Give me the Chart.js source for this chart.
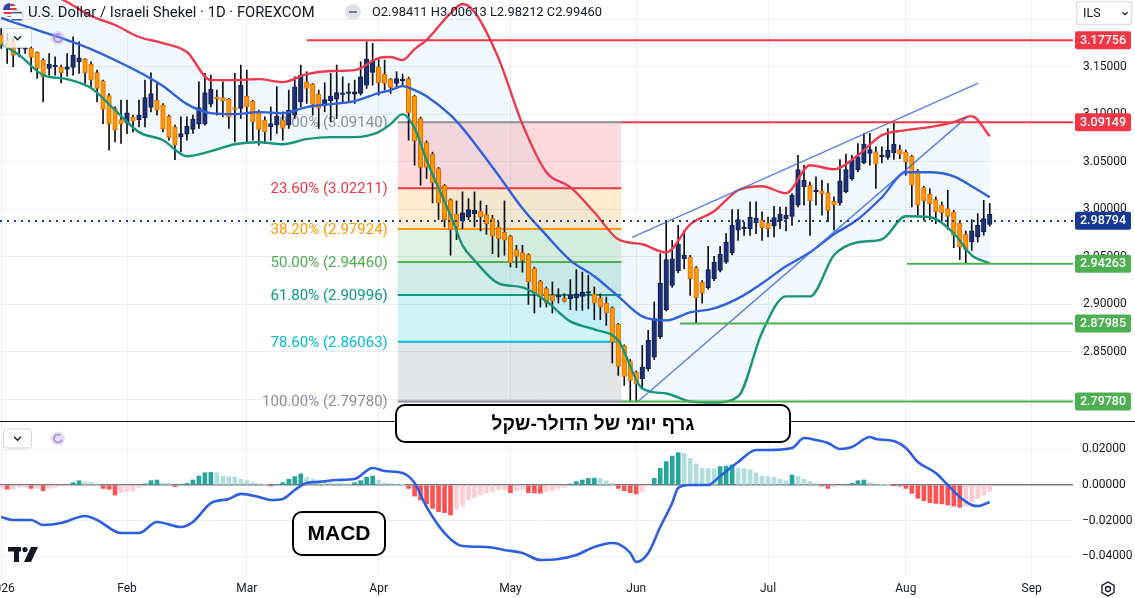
<!DOCTYPE html>
<html>
<head>
<meta charset="utf-8">
<title>USD/ILS 1D</title>
<script src="https://cdn.jsdelivr.net/npm/chart.js@4.4.1/dist/chart.umd.min.js"></script>
<style>
  html, body { margin: 0; padding: 0; background: #fff; }
  #wrap { position: relative; width: 1135px; height: 598px; }
</style>
</head>
<body>
<div id="wrap"><canvas id="chart"></canvas></div>
<script>
// time axis: bar index 0 = 2 Jan 2026 (weekdays only)
var monthLabels = ["2026", "Feb", "Mar", "Apr", "May", "Jun", "Jul", "Aug", "Sep"];
var monthStarts = [0, 21, 41, 63, 85, 106, 128, 151, 172];
var priceTicks = [2.80, 2.85, 2.90, 2.95, 3.00, 3.05, 3.10, 3.15, 3.20];
var macdTicks = [-0.04, -0.02, 0, 0.02];

var opens = [3.1831,3.1778,3.1761,3.1690,3.1684,3.1691,3.1649,3.1568,3.1480,3.1498,
  3.1498,3.1470,3.1491,3.1550,3.1575,3.1526,3.1438,3.1350,3.1196,3.1059,
  3.0943,3.0908,3.0971,3.0943,3.0964,3.1070,3.1147,3.1094,3.0978,3.0866,
  3.0761,3.0789,3.0839,3.0895,3.0895,3.1105,3.1182,3.1175,3.1158,3.1070,
  3.1060,3.1189,3.1137,3.1025,3.0937,3.0867,3.0884,3.0937,3.0884,3.0989,
  3.1130,3.1340,3.1316,3.1211,3.1105,3.1140,3.1158,3.1207,3.1218,3.1211,
  3.1218,3.1305,3.1439,3.1498,3.1421,3.1365,3.1323,3.1352,3.1375,3.1190,
  3.0954,3.0702,3.0579,3.0428,3.0249,3.0102,2.9947,2.9877,2.9919,2.9954,
  2.9979,2.9944,2.9902,2.9814,2.9758,2.9719,2.9576,2.9544,2.9523,2.9376,
  2.9242,2.9165,2.9095,2.9077,2.9067,2.9060,2.9067,2.9084,2.9119,2.9112,
  2.9070,2.9014,2.8965,2.8790,2.8565,2.8404,2.8288,2.8218,2.8323,2.8446,
  2.8657,2.8944,2.9200,2.9351,2.9480,2.9498,2.9386,2.9235,2.9175,2.9270,
  2.9358,2.9445,2.9540,2.9779,2.9796,2.9796,2.9856,2.9884,2.9856,2.9821,
  2.9877,2.9901,2.9926,3.0042,3.0235,3.0252,3.0184,3.0193,3.0172,3.0084,
  3.0066,3.0182,3.0322,3.0417,3.0487,3.0586,3.0603,3.0552,3.0544,3.0593,
  3.0628,3.0603,3.0558,3.0403,3.0228,3.0158,3.0101,3.0042,3.0007,2.9972,
  2.9856,2.9737,2.9656,2.9708,2.9761,2.98411];
var highs = [3.1901,3.1849,3.1796,3.1708,3.1708,3.1708,3.1656,3.1585,3.1638,3.1603,
  3.1515,3.1638,3.1814,3.1761,3.1585,3.1550,3.1463,3.1357,3.1217,3.1077,
  3.1147,3.1147,3.0989,3.1147,3.1357,3.1435,3.1322,3.1112,3.0989,3.0884,
  3.0971,3.0971,3.0989,3.1340,3.1428,3.1411,3.1253,3.1340,3.1165,3.1428,
  3.1516,3.1463,3.1147,3.1042,3.0972,3.1077,3.1288,3.1025,3.1253,3.1393,
  3.1516,3.1446,3.1323,3.1253,3.1330,3.1428,3.1516,3.1393,3.1323,3.1358,
  3.1551,3.1761,3.1744,3.1586,3.1568,3.1375,3.1446,3.1420,3.1390,3.1200,
  3.0970,3.0720,3.0600,3.0440,3.0260,3.0110,3.0088,3.0183,3.0112,3.0183,
  3.0088,3.0042,2.9937,2.9867,3.0088,2.9726,2.9621,2.9621,2.9533,2.9393,
  2.9253,2.9183,2.9235,2.9165,2.9112,2.9260,2.9365,2.9340,2.9305,2.9183,
  2.9112,2.9077,2.8975,2.8800,2.8575,2.8420,2.8300,2.8569,2.8727,2.9025,
  2.9534,2.9867,2.9673,2.9831,2.9779,2.9515,2.9400,2.9250,2.9610,2.9505,
  2.9610,2.9744,2.9996,2.9996,2.9866,3.0077,3.0077,2.9972,2.9919,3.0031,
  3.0024,3.0024,3.0165,3.0568,3.0463,3.0287,3.0340,3.0305,3.0270,3.0130,
  3.0523,3.0579,3.0568,3.0691,3.0796,3.0796,3.0656,3.0656,3.0849,3.0915,
  3.0674,3.0621,3.0568,3.0417,3.0242,3.0217,3.0130,3.0077,3.0200,2.9989,
  2.9884,2.9772,2.9891,2.9954,3.0094,3.00613];
var lows = [3.1691,3.1533,3.1498,3.1603,3.1638,3.1445,3.1375,3.1129,3.1410,3.1410,
  3.1329,3.1400,3.1410,3.1428,3.1322,3.1270,3.1129,3.0901,3.0621,3.0708,
  3.0691,3.0796,3.0814,3.0866,3.0866,3.1024,3.0989,3.0814,3.0726,3.0522,
  3.0603,3.0726,3.0797,3.0849,3.0884,3.1077,3.0989,3.0972,3.0849,3.0709,
  3.0954,3.0709,3.0726,3.0674,3.0691,3.0726,3.0797,3.0726,3.0849,3.0954,
  3.1077,3.1112,3.0989,3.0849,3.1025,3.0919,3.0954,3.1112,3.1130,3.1112,
  3.1200,3.1270,3.1305,3.1200,3.1253,3.1218,3.1270,3.1300,3.0726,3.0463,
  3.0253,3.0323,3.0067,2.9891,2.9814,2.9516,2.9681,2.9797,2.9891,2.9814,
  2.9772,2.9737,2.9533,2.9498,2.9516,2.9393,2.9386,2.9340,2.9000,2.8909,
  2.8972,2.8972,2.8909,2.9014,2.9025,2.8944,2.8937,2.8937,2.8954,2.8839,
  2.8839,2.8779,2.8383,2.8253,2.8148,2.7985,2.7978,2.8113,2.8300,2.8420,
  2.8640,2.8930,2.9180,2.9330,2.9375,2.9094,2.8800,2.9014,2.9160,2.9250,
  2.9340,2.9430,2.9520,2.9673,2.9726,2.9726,2.9744,2.9673,2.9708,2.9708,
  2.9796,2.9772,2.9831,3.0024,3.0042,2.9726,3.0042,2.9937,2.9866,2.9779,
  3.0042,3.0172,3.0305,3.0393,3.0480,3.0463,3.0218,3.0487,3.0523,3.0523,
  3.0533,3.0358,3.0024,2.9937,2.9884,2.9891,2.9849,2.9877,2.9786,2.9596,
  2.9470,2.9426,2.9568,2.9656,2.9726,2.98212];
var closes = [3.1726,3.1708,3.1621,3.1692,3.1686,3.1596,3.1480,3.1393,3.1526,3.1500,
  3.1435,3.1498,3.1621,3.1593,3.1435,3.1357,3.1270,3.1049,3.0901,3.0831,
  3.0894,3.1014,3.0926,3.0989,3.1175,3.1217,3.1042,3.0845,3.0754,3.0673,
  3.0796,3.0873,3.0947,3.1070,3.1228,3.1260,3.1158,3.1140,3.0972,3.1049,
  3.1305,3.1077,3.0919,3.0839,3.0814,3.0902,3.0979,3.0849,3.1042,3.1288,
  3.1411,3.1270,3.1102,3.1060,3.1154,3.1189,3.1228,3.1210,3.1220,3.1235,
  3.1393,3.1575,3.1561,3.1330,3.1323,3.1281,3.1375,3.1362,3.1014,3.0719,
  3.0439,3.0439,3.0277,3.0067,2.9891,2.9786,2.9814,2.9962,2.9997,2.9990,
  2.9919,2.9849,2.9716,2.9691,2.9674,2.9435,2.9505,2.9463,2.9235,2.9119,
  2.9084,2.9014,2.9035,2.9079,2.9035,2.9095,2.9112,2.9126,2.9130,2.9014,
  2.8972,2.8909,2.8604,2.8347,2.8242,2.8200,2.8165,2.8341,2.8621,2.8850,
  2.9225,2.9471,2.9480,2.9631,2.9515,2.9270,2.9070,2.9119,2.9365,2.9445,
  2.9526,2.9656,2.9831,2.9891,2.9800,2.9919,2.9908,2.9807,2.9796,2.9912,
  2.9947,2.9937,3.0147,3.0417,3.0305,3.0087,3.0186,3.0165,2.9989,3.0042,
  3.0298,3.0417,3.0515,3.0550,3.0684,3.0628,3.0473,3.0554,3.0621,3.0684,
  3.0579,3.0498,3.0253,3.0042,3.0087,3.0059,2.9972,2.9961,2.9926,2.9726,
  2.9603,2.9575,2.9772,2.9831,2.9901,2.99460];

// Bollinger bands read at sample bars
var bandIdx = [0,3,7,11,15,19,23,27,31,35,39,43,47,51,55,59,63,65,67,69,71,75,77,79,83,87,91,95,99,103,107,111,115,119,123,127,131,135,139,143,147,151,155,159,162,165];
var bandUpper = [3.2516,3.2411,3.2305,3.2179,3.2032,3.1937,3.1811,3.1747,3.1653,3.1358,3.1358,3.1368,3.1337,3.1421,3.1453,3.1463,3.1589,3.1600,3.1568,3.1684,3.1779,3.2063,3.2158,3.2074,3.1589,3.0895,3.0389,3.0232,2.9968,2.9684,2.9632,2.9547,2.9842,2.9979,3.0200,3.0242,3.0168,3.0463,3.0421,3.0568,3.0779,3.0832,3.0863,3.0916,3.0979,3.0768];
var bandMiddle = [3.2011,3.1947,3.1863,3.1779,3.1684,3.1568,3.1442,3.1295,3.1105,3.1011,3.1000,3.1021,3.1011,3.1074,3.1105,3.1137,3.1221,3.1253,3.1295,3.1253,3.1189,3.0989,3.0853,3.0695,3.0358,3.0011,2.9726,2.9463,2.9295,2.9084,2.8874,2.8832,2.8916,2.8958,2.9063,2.9221,2.9400,2.9547,2.9737,2.9895,3.0126,3.0389,3.0389,3.0347,3.0242,3.0126];
var bandLower = [3.1737,3.1621,3.1411,3.1368,3.1274,3.1042,3.0811,3.0726,3.0558,3.0611,3.0684,3.0705,3.0684,3.0737,3.0758,3.0758,3.0811,3.0895,3.1000,3.0853,3.0516,2.9937,2.9621,2.9463,2.9221,2.9179,2.9032,2.8821,2.8737,2.8621,2.8116,2.8063,2.7979,2.7968,2.8032,2.8705,2.9084,2.9084,2.9516,2.9653,2.9684,2.9926,2.9916,2.9747,2.9516,2.9432];

// MACD
var macdIdx = [0,2,5,7,10,14,16,20,23,26,30,32,35,38,40,43,45,47,49,51,53,56,59,62,64,67,69,71,74,77,81,84,87,90,93,96,99,102,103,105,106,108,110,112,113,115,118,120,123,126,128,132,134,136,138,140,142,145,146,149,151,153,156,158,160,162,163,165];
var macdLine = [-0.0179,-0.0196,-0.0196,-0.0224,-0.0213,-0.0174,-0.0196,-0.0269,-0.0269,-0.0207,-0.0235,-0.0207,-0.0101,-0.0078,-0.0050,-0.0067,-0.0084,-0.0078,-0.0028,0.0011,0.0017,0.0028,0.0034,0.0095,0.0078,0.0067,0.0011,-0.0123,-0.0269,-0.0342,-0.0347,-0.0364,-0.0381,-0.0420,-0.0415,-0.0392,-0.0347,-0.0325,-0.0330,-0.0381,-0.0431,-0.0381,-0.0235,-0.0101,-0.0017,0.0000,0.0000,0.0050,0.0129,0.0196,0.0196,0.0207,0.0263,0.0252,0.0235,0.0202,0.0213,0.0269,0.0258,0.0246,0.0207,0.0129,0.0067,0.0000,-0.0067,-0.0112,-0.0118,-0.0095];
var macdHist = [-0.0018,-0.0024,-0.0024,-0.0013,-0.0013,-0.0019,-0.0019,-0.0032,-0.0019,-0.0013,
  -0.0006,-0.0002,0.0013,0.0024,0.0017,0.0013,0.0006,-0.0019,-0.0024,-0.0056,
  -0.0043,-0.0037,-0.0032,-0.0013,0.0006,0.0024,0.0028,0.0013,0.0009,-0.0009,
  0.0002,0.0009,0.0028,0.0050,0.0069,0.0070,0.0068,0.0050,0.0047,0.0045,
  0.0032,0.0024,0.0013,0.0006,0.0002,-0.0006,0.0004,0.0013,0.0032,0.0047,
  0.0062,0.0043,0.0032,0.0028,0.0024,0.0013,0.0009,0.0006,0.0004,0.0013,
  0.0024,0.0043,0.0050,0.0028,0.0013,0.0009,0.0006,0.0002,-0.0019,-0.0062,
  -0.0084,-0.0106,-0.0131,-0.0149,-0.0155,-0.0168,-0.0136,-0.0118,-0.0084,-0.0069,
  -0.0056,-0.0047,-0.0037,-0.0028,-0.0026,-0.0043,-0.0032,-0.0024,-0.0043,-0.0045,
  -0.0046,-0.0037,-0.0032,-0.0020,-0.0013,0.0006,0.0019,0.0028,0.0037,0.0038,
  0.0036,0.0024,0.0009,-0.0019,-0.0032,-0.0043,-0.0050,-0.0037,-0.0002,0.0037,
  0.0093,0.0131,0.0162,0.0181,0.0177,0.0149,0.0118,0.0093,0.0092,0.0091,
  0.0103,0.0106,0.0112,0.0093,0.0092,0.0084,0.0069,0.0050,0.0047,0.0043,
  0.0032,0.0024,0.0056,0.0047,0.0032,0.0019,0.0009,-0.0006,-0.0019,-0.0010,
  -0.0004,0.0003,0.0009,0.0024,0.0028,0.0013,0.0006,0.0002,0.0001,-0.0001,
  -0.0006,-0.0019,-0.0047,-0.0075,-0.0088,-0.0099,-0.0103,-0.0106,-0.0112,-0.0118,
  -0.0125,-0.0118,-0.0093,-0.0075,-0.0056,-0.0037];

// drawings
var fibLevels = [0, 0.236, 0.382, 0.5, 0.618, 0.786, 1];
var fibPrices = [3.09140, 3.02211, 2.97924, 2.94460, 2.90996, 2.86063, 2.79780];
var fibSpan = [66.2, 103.5];
var levelPrices = [3.17756, 3.09149, 2.94263, 2.87985, 2.79780];
var levelStarts = [51, 103.5, 151.2, 113.3, 103.5];
var lastPrice = 2.98794;
var trendUpperX = [105.3, 163.1], trendUpperY = [2.9705, 3.1326];
var trendLowerX = [106.1, 161.2], trendLowerY = [2.7968, 3.0968];

var RED = "#f23645", GREEN = "#4caf50", NAVY = "#143a96";
var fibColors = ["#8c8f99", "#f23645", "#ff9800", "#4caf50", "#089981", "#00bcd4", "#8c8f99"];
var fibFills = ["rgba(242,54,69,0.18)", "rgba(255,152,0,0.18)", "rgba(76,175,80,0.18)",
  "rgba(8,153,129,0.18)", "rgba(0,188,212,0.18)", "rgba(120,123,134,0.2)"];
var levelColors = [RED, RED, GREEN, GREEN, GREEN];
var GRID = "#eceef3";
var FONT = "Roboto, 'Noto Sans', sans-serif";

Chart.defaults.font.family = FONT;
Chart.defaults.color = "#131722";

var bars = opens.map(function (o, k) { return k; });
var up = bars.map(function (k) { return closes[k] >= opens[k]; });
function pts(xs, ys) { return xs.map(function (x, k) { return { x: x, y: ys[k] }; }); }

var histColors = macdHist.map(function (v, k) {
  var prev = k > 0 ? macdHist[k - 1] : v;
  if (v >= 0) return v >= prev ? "#26a69a" : "#b2dfdb";
  return v < prev ? "#ff5252" : "#ffcdd2";
});

function chevron(ctx, cx, cy, s) {
  ctx.beginPath();
  ctx.moveTo(cx - s, cy - s / 2);
  ctx.lineTo(cx, cy + s / 2);
  ctx.lineTo(cx + s, cy - s / 2);
  ctx.stroke();
}
function fitSize(ctx, text, width, weight, family) {
  ctx.font = weight + " 20px " + family;
  return 20 * width / ctx.measureText(text).width;
}
function textBox(ctx, x, y, w, h, text, textW, rtl) {
  ctx.beginPath();
  ctx.roundRect(x, y, w, h, 9);
  ctx.fillStyle = "#fff";
  ctx.fill();
  ctx.lineWidth = 2;
  ctx.strokeStyle = "#000";
  ctx.stroke();
  var fam = rtl ? "'Liberation Sans', 'DejaVu Sans', sans-serif" : "'Liberation Sans', Roboto, sans-serif";
  var size = fitSize(ctx, text, textW, "bold", fam);
  ctx.font = "bold " + size + "px " + fam;
  ctx.fillStyle = "#000";
  ctx.textAlign = "center";
  ctx.textBaseline = "middle";
  ctx.direction = rtl ? "rtl" : "ltr";
  ctx.fillText(text, x + w / 2, y + h / 2 + 1);
  ctx.direction = "ltr";
}
function widgets(ctx, y0) {
  ctx.fillStyle = "rgba(255,255,255,0.75)";
  ctx.strokeStyle = "#d1d4dc";
  ctx.lineWidth = 1;
  ctx.beginPath();
  ctx.roundRect(3.5, y0 - 9.5, 28, 19, 3);
  ctx.fill();
  ctx.stroke();
  ctx.strokeStyle = "#131722";
  ctx.lineWidth = 1.3;
  chevron(ctx, 17.5, y0, 3.5);
  ctx.fillStyle = "rgba(179,157,219,0.35)";
  ctx.beginPath();
  ctx.arc(58, y0, 7, 0, Math.PI * 2);
  ctx.fill();
  ctx.strokeStyle = "#a48be0";
  ctx.lineWidth = 1.6;
  ctx.beginPath();
  ctx.arc(58, y0, 4, 0.3, Math.PI * 1.7);
  ctx.stroke();
}

var drawings = {
  id: "drawings",
  beforeDatasetsDraw: function (chart) {
    var ctx = chart.ctx, a = chart.chartArea, x = chart.scales.x, y = chart.scales.y;
    var x1 = x.getPixelForValue(fibSpan[0]), x2 = x.getPixelForValue(fibSpan[1]);
    ctx.save();
    ctx.beginPath();
    ctx.rect(a.left, y.top, a.right - a.left, y.bottom - y.top);
    ctx.clip();
    for (var k = 0; k < fibPrices.length - 1; k++) {
      var ya = y.getPixelForValue(fibPrices[k]), yb = y.getPixelForValue(fibPrices[k + 1]);
      ctx.fillStyle = fibFills[k];
      ctx.fillRect(x1, ya, x2 - x1, yb - ya);
    }
    ctx.lineWidth = 2;
    ctx.textAlign = "right";
    ctx.textBaseline = "middle";
    ctx.font = "15px " + FONT;
    fibPrices.forEach(function (p, k) {
      var yy = y.getPixelForValue(p);
      ctx.strokeStyle = fibColors[k];
      ctx.beginPath();
      ctx.moveTo(x1, yy);
      ctx.lineTo(x2, yy);
      ctx.stroke();
      ctx.fillStyle = fibColors[k];
      ctx.fillText((fibLevels[k] * 100).toFixed(2) + "% (" + p.toFixed(5) + ")", x1 - 10, yy + 1);
    });
    ctx.restore();
  },
  afterDatasetsDraw: function (chart) {
    var ctx = chart.ctx, a = chart.chartArea, x = chart.scales.x, y = chart.scales.y;
    ctx.save();
    // horizontal levels
    ctx.lineWidth = 2;
    levelPrices.forEach(function (p, k) {
      var yy = y.getPixelForValue(p);
      ctx.strokeStyle = levelColors[k];
      ctx.beginPath();
      ctx.moveTo(x.getPixelForValue(levelStarts[k]), yy);
      ctx.lineTo(a.right, yy);
      ctx.stroke();
    });
    // last price
    var ly = Math.round(y.getPixelForValue(lastPrice));
    ctx.strokeStyle = "#1c3f7a";
    ctx.lineWidth = 2;
    ctx.setLineDash([2, 5]);
    ctx.beginPath();
    ctx.moveTo(a.left, ly);
    ctx.lineTo(a.right, ly);
    ctx.stroke();
    ctx.setLineDash([]);
    // pane separator
    ctx.strokeStyle = "#131722";
    ctx.lineWidth = 1;
    ctx.beginPath();
    ctx.moveTo(0, Math.round(y.bottom) + 0.5);
    ctx.lineTo(chart.width, Math.round(y.bottom) + 0.5);
    ctx.stroke();

    textBox(ctx, 396, 405, 394, 37, "גרף יומי של הדולר-שקל", 203, true);
    textBox(ctx, 293, 512, 92, 43, "MACD", 63, false);

    // legend
    ctx.textAlign = "left";
    ctx.textBaseline = "middle";
    var title = "U.S. Dollar / Israeli Shekel · 1D · FOREXCOM";
    ctx.font = fitSize(ctx, title, 287, "", FONT) + "px " + FONT;
    ctx.fillStyle = "#131722";
    ctx.fillText(title, 28, 13);
    var ohlc = "O" + opens[opens.length - 1].toFixed(5) + " H" + highs[highs.length - 1].toFixed(5) +
      " L" + lows[lows.length - 1].toFixed(5) + " C" + closes[closes.length - 1].toFixed(5);
    ctx.font = fitSize(ctx, ohlc, 230, "", FONT) + "px " + FONT;
    ctx.fillText(ohlc, 372, 13);
    ctx.fillStyle = "#e0e3eb";
    ctx.beginPath();
    ctx.arc(353, 12, 8, 0, Math.PI * 2);
    ctx.fill();
    ctx.fillStyle = "#787b86";
    ctx.fillRect(349, 11, 8, 2);
    // symbol icon
    ctx.save();
    ctx.beginPath();
    ctx.arc(10, 10, 7, 0, Math.PI * 2);
    ctx.clip();
    ctx.fillStyle = "#fff";
    ctx.fillRect(2, 2, 16, 16);
    ctx.fillStyle = "#d8343f";
    [4, 8, 12, 16].forEach(function (s) { ctx.fillRect(2, s, 16, 2); });
    ctx.fillStyle = "#2b4aa0";
    ctx.fillRect(2, 2, 8, 8);
    ctx.restore();
    ctx.fillStyle = "#fff";
    ctx.strokeStyle = "#c9cdd6";
    ctx.lineWidth = 1;
    ctx.beginPath();
    ctx.arc(17, 16, 6, 0, Math.PI * 2);
    ctx.fill();
    ctx.stroke();
    ctx.fillStyle = "#2b5fc7";
    ctx.fillRect(12, 12, 10, 1.5);
    ctx.fillRect(12, 19, 10, 1.5);
    widgets(ctx, 38);
    widgets(ctx, 438.5);
    // logo
    ctx.fillStyle = "#131722";
    ctx.fillRect(8, 547, 13, 4.5);
    ctx.fillRect(14, 547, 5, 15);
    ctx.beginPath();
    ctx.arc(25, 549.5, 2.6, 0, Math.PI * 2);
    ctx.fill();
    ctx.beginPath();
    ctx.moveTo(31, 547);
    ctx.lineTo(38, 547);
    ctx.lineTo(31, 562);
    ctx.lineTo(24, 562);
    ctx.closePath();
    ctx.fill();

    // price tags
    var tagP = [levelPrices[0], levelPrices[1], lastPrice, levelPrices[2], levelPrices[3], levelPrices[4]];
    var tagC = [RED, RED, NAVY, GREEN, GREEN, GREEN];
    ctx.textAlign = "center";
    ctx.font = "500 12.5px " + FONT;
    tagP.forEach(function (p, k) {
      var yy = y.getPixelForValue(p);
      ctx.fillStyle = tagC[k];
      ctx.beginPath();
      ctx.roundRect(a.right + 2, yy - 9, 56, 18, 2);
      ctx.fill();
      ctx.fillStyle = "#fff";
      ctx.fillText(p.toFixed(5), a.right + 30, yy + 0.5);
    });
    // currency box
    ctx.fillStyle = "#fff";
    ctx.strokeStyle = "#e0e3eb";
    ctx.beginPath();
    ctx.roundRect(1076.5, 1.5, 55, 23, 3);
    ctx.fill();
    ctx.stroke();
    ctx.fillStyle = "#131722";
    ctx.textAlign = "left";
    ctx.font = "12.5px " + FONT;
    ctx.fillText("ILS", 1083, 13.5);
    ctx.strokeStyle = "#131722";
    ctx.lineWidth = 1.2;
    chevron(ctx, 1125, 13.5, 2.5);
    // settings icon
    ctx.lineWidth = 1.3;
    ctx.beginPath();
    for (var i = 0; i < 6; i++) {
      var ang = Math.PI / 6 + i * Math.PI / 3;
      ctx.lineTo(1108 + 7 * Math.cos(ang), 589 + 7 * Math.sin(ang));
    }
    ctx.closePath();
    ctx.stroke();
    ctx.beginPath();
    ctx.arc(1108, 589, 2.5, 0, Math.PI * 2);
    ctx.stroke();
    ctx.restore();
  }
};

new Chart(document.getElementById("chart"), {
  type: "bar",
  data: {
    datasets: [{
      type: "line", data: pts(trendUpperX, trendUpperY),
      borderColor: "rgba(60,110,225,0.85)", borderWidth: 1.5, pointRadius: 0
    }, {
      type: "line", data: pts(trendLowerX, trendLowerY),
      borderColor: "rgba(60,110,225,0.85)", borderWidth: 1.5, pointRadius: 0
    }, {
      type: "line", data: pts(bandIdx, bandUpper),
      borderColor: "#ee3a4c", borderWidth: 2.4, pointRadius: 0, cubicInterpolationMode: "monotone",
      fill: { target: 4, above: "rgba(33,150,243,0.06)", below: "rgba(33,150,243,0.06)" }
    }, {
      type: "line", data: pts(bandIdx, bandMiddle),
      borderColor: "#3060dc", borderWidth: 2.4, pointRadius: 0, cubicInterpolationMode: "monotone"
    }, {
      type: "line", data: pts(bandIdx, bandLower),
      borderColor: "#16957a", borderWidth: 2.4, pointRadius: 0, cubicInterpolationMode: "monotone"
    }, {
      data: bars.map(function (k) { return { x: k, y: [opens[k], closes[k]] }; }),
      backgroundColor: up.map(function (u) { return u ? "#1d2f70" : "#ff9800"; }),
      borderColor: up.map(function (u) { return u ? "#0e1c4e" : "#e06a00"; }),
      borderWidth: 1, borderSkipped: false, barThickness: 4.6, minBarLength: 1.5, grouped: false
    }, {
      data: bars.map(function (k) { return { x: k, y: [lows[k], highs[k]] }; }),
      backgroundColor: "#0b0e16", barThickness: 1, grouped: false
    }, {
      type: "line", yAxisID: "y2", data: pts(macdIdx, macdLine),
      borderColor: "#2c5fe0", borderWidth: 2.6, pointRadius: 0, cubicInterpolationMode: "monotone"
    }, {
      yAxisID: "y2", data: bars.map(function (k) { return { x: k, y: macdHist[k] }; }),
      backgroundColor: histColors, barThickness: 4, grouped: false
    }]
  },
  options: {
    responsive: true,
    maintainAspectRatio: false,
    animation: false,
    events: [],
    layout: { padding: 0, autoPadding: false },
    plugins: {
      legend: { display: false },
      tooltip: { enabled: false },
      filler: { drawTime: "beforeDatasetsDraw" }
    },
    scales: {
      x: {
        type: "linear", min: -0.2, max: 178.9, offset: false,
        afterBuildTicks: function (s) { s.ticks = monthStarts.map(function (v) { return { value: v }; }); },
        afterFit: function (s) { s.height = 23; s.paddingLeft = 0; s.paddingRight = 0; },
        ticks: {
          autoSkip: false, maxRotation: 0, padding: 7, color: "#131722", font: { size: 12 },
          callback: function (v, i) { return monthLabels[i]; }
        },
        grid: { color: GRID, drawTicks: false, offset: false },
        border: { display: false }
      },
      y: {
        position: "right", stack: "panes", stackWeight: 421, min: 2.7774, max: 3.2200,
        afterBuildTicks: function (s) { s.ticks = priceTicks.map(function (v) { return { value: v }; }); },
        afterFit: function (s) { s.width = 62; s.paddingTop = 0; s.paddingBottom = 0; },
        ticks: { padding: 10, color: "#131722", font: { size: 12 }, callback: function (v) { return Number(v).toFixed(5); } },
        grid: { color: GRID, drawTicks: false },
        border: { display: false }
      },
      y2: {
        position: "right", stack: "panes", stackWeight: 154, min: -0.05042, max: 0.035854,
        afterBuildTicks: function (s) { s.ticks = macdTicks.map(function (v) { return { value: v }; }); },
        afterFit: function (s) { s.width = 62; s.paddingTop = 0; s.paddingBottom = 0; },
        ticks: {
          padding: 9, color: "#131722", font: { size: 12 },
          callback: function (v) { return (v < 0 ? "\u2212" : "") + Math.abs(v).toFixed(5); }
        },
        grid: {
          drawTicks: false,
          color: function (c) { return c.tick && c.tick.value === 0 ? "#787b86" : GRID; },
          lineWidth: function (c) { return c.tick && c.tick.value === 0 ? 1.5 : 1; }
        },
        border: { display: false }
      }
    }
  },
  plugins: [drawings]
});
</script>
</body>
</html>
